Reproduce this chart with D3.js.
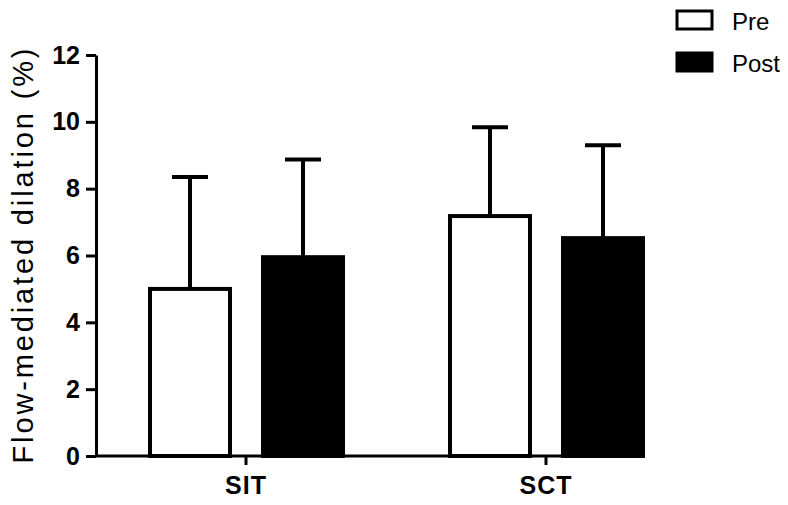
<!DOCTYPE html>
<meta charset="utf-8">
<script src="https://d3js.org/d3.v7.min.js"></script>
<style>
  body { margin: 0; background: #fff; }
  text { font-family: "Liberation Sans", Arial, sans-serif; }
</style>
<svg id="chart" width="788" height="505"></svg>
<script>
// data
var groups = ["SIT", "SCT"];
var series = ["Pre", "Post"];
var preMean = [5.0, 7.18];
var preErr = [3.35, 2.66];
var postMean = [5.95, 6.52];
var postErr = [2.92, 2.78];
var yTicks = [0, 2, 4, 6, 8, 10, 12];

var rows = [];
groups.forEach(function (g, i) {
  rows.push({ group: g, key: "Pre", mean: preMean[i], err: preErr[i] });
  rows.push({ group: g, key: "Post", mean: postMean[i], err: postErr[i] });
});

var svg = d3.select("#chart");

var y = d3.scaleLinear().domain([0, 12]).range([456, 55]);
var x0 = d3.scaleBand().domain(groups).range([96, 696]);
var x1 = d3.scaleBand().domain(series).range([54, 247]).paddingInner(0.292);
var fill = d3.scaleOrdinal().domain(series).range(["#fff", "#000"]);

// bars
svg.append("g")
  .selectAll("rect")
  .data(rows)
  .enter()
  .append("rect")
  .attr("x", function (d) { return x0(d.group) + x1(d.key); })
  .attr("y", function (d) { return y(d.mean); })
  .attr("width", x1.bandwidth())
  .attr("height", function (d) { return y(0) - y(d.mean); })
  .attr("fill", function (d) { return fill(d.key); })
  .attr("stroke", "#000")
  .attr("stroke-width", 4);

// error bars (upper only)
var eb = svg.append("g").attr("stroke", "#000").attr("stroke-width", 4);
rows.forEach(function (d) {
  var cx = x0(d.group) + x1(d.key) + x1.bandwidth() / 2;
  eb.append("line")
    .attr("x1", cx).attr("x2", cx)
    .attr("y1", y(d.mean)).attr("y2", y(d.mean + d.err));
  eb.append("line")
    .attr("x1", cx - 18).attr("x2", cx + 18)
    .attr("y1", y(d.mean + d.err)).attr("y2", y(d.mean + d.err));
});

// y axis
var yAxis = svg.append("g")
  .attr("transform", "translate(96,0)")
  .call(d3.axisLeft(y).tickValues(yTicks).tickSize(10).tickSizeOuter(0).tickPadding(6));
yAxis.select(".domain").attr("stroke-width", 3);
yAxis.selectAll(".tick line").attr("stroke-width", 3);
yAxis.selectAll(".tick text")
  .style("font-family", "'Liberation Sans', Arial, sans-serif")
  .style("font-size", "25px")
  .style("font-weight", "bold")
  .attr("fill", "#000");

// x axis
var xAxis = svg.append("g")
  .attr("transform", "translate(0,456)")
  .call(d3.axisBottom(x0).tickSize(9).tickPadding(11));
xAxis.select(".domain").remove();
xAxis.append("line")
  .attr("x1", 96)
  .attr("x2", x0("SCT") + x1("Post") + x1.bandwidth() + 2)
  .attr("stroke", "#000")
  .attr("stroke-width", 3);
xAxis.selectAll(".tick line").attr("stroke-width", 3);
xAxis.selectAll(".tick text")
  .style("font-family", "'Liberation Sans', Arial, sans-serif")
  .style("font-size", "25px")
  .style("font-weight", "bold")
  .style("letter-spacing", "1px")
  .attr("fill", "#000");

// y title
svg.append("text")
  .attr("transform", "translate(33,256) rotate(-90)")
  .attr("text-anchor", "middle")
  .attr("textLength", 415)
  .attr("lengthAdjust", "spacing")
  .style("font-size", "29px")
  .text("Flow-mediated dilation (%)");

// legend
var leg = svg.append("g");
series.forEach(function (s, i) {
  leg.append("rect")
    .attr("x", 677).attr("y", 11 + i * 42)
    .attr("width", 35).attr("height", 18)
    .attr("fill", fill(s))
    .attr("stroke", "#000")
    .attr("stroke-width", 3);
  leg.append("text")
    .attr("x", 732).attr("y", 30 + i * 42)
    .style("font-size", "24px")
    .text(s);
});
</script>
